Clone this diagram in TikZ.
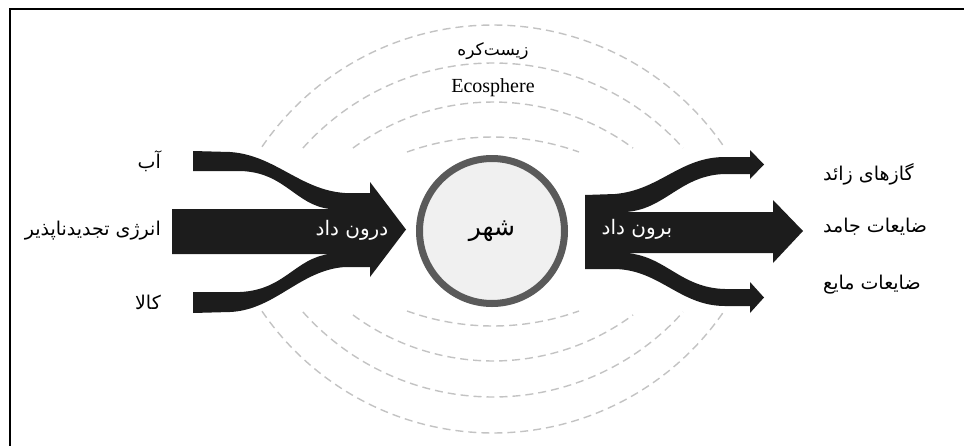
\documentclass[tikz,border=0pt]{standalone}
\usepackage{fontspec}
\setmainfont{Liberation Serif}
\newfontfamily\fa[Script=Arabic]{DejaVu Sans}
\TeXXeTstate=1
\definecolor{ecogray}{RGB}{195,195,195}
\definecolor{flow}{RGB}{28,28,28}
\definecolor{cityring}{RGB}{90,90,90}
\definecolor{cityfill}{RGB}{240,240,240}
\tikzset{
  eco/.style={draw=ecogray, line width=1.4pt, dash pattern=on 8pt off 5pt},
  flowfill/.style={fill=flow, draw=none},
  lbl/.style={font=\fa\fontsize{19}{21}\selectfont, inner sep=0pt},
  wlbl/.style={font=\fa\fontsize{20}{22}\selectfont, text=white, inner sep=0pt},
  frame/.style={draw=black, line width=2.5pt}
}
\begin{document}
\begin{tikzpicture}[x=1pt,y=-1pt]
\useasboundingbox (0,0) rectangle (964,445);
% frame (top and left edges)
\coordinate (fbl) at (10,447);
\coordinate (ftl) at (10,9);
\coordinate (ftr) at (966,9);
\draw[frame] (fbl) -- (ftl) -- (ftr);
% ecosphere arcs
\foreach \n/\ap/\r/\t in {1/25/280/55.6, 2/63/255/48.2, 3/102/236/36.4, 4/137/254/19.8} {
  \coordinate (tc\n) at (493,{\ap+\r});
  \draw[eco] ([shift={(90+\t:\r pt)}]tc\n) arc[start angle=90+\t, end angle=90-\t, radius=\r pt];
}
\foreach \n/\ap/\r/\t in {1/433/280/55.6, 2/397/255/48.2, 3/361/236/36.4, 4/326/254/19.8} {
  \coordinate (bc\n) at (493,{\ap-\r});
  \draw[eco] ([shift={(270-\t:\r pt)}]bc\n) arc[start angle=270-\t, end angle=270+\t, radius=\r pt];
}
% input flow
\fill[flowfill] (193,151) -- (230,152) .. controls (275,155) and (300,190) .. (345,193) -- (370,193) -- (370,182) -- (406,229.5) -- (370,277) -- (370,267) -- (345,267) .. controls (300,270) and (275,310) .. (230,312) -- (193,313) -- (193,292) -- (240,292) .. controls (285,290) and (295,258) .. (330,254) -- (172,254) -- (172,209) -- (330,209) .. controls (295,205) and (285,172) .. (240,171) -- (193,171) -- cycle;
% output flow
\fill[flowfill] (585,195) -- (615,194) .. controls (660,190) and (680,157) .. (725,157) -- (750,157) -- (750,150) -- (764,164.5) -- (750,179) -- (750,174) -- (725,174) .. controls (680,175) and (665,210) .. (625,212) -- (773,212) -- (773,200) -- (803,231) -- (773,263) -- (773,253) -- (625,253) .. controls (665,255) and (680,288) .. (725,289) -- (750,289) -- (750,282) -- (764,297.5) -- (750,313) -- (750,306) -- (725,306) .. controls (680,306) and (660,270) .. (615,269) -- (585,269) -- cycle;
% city
\node[circle, draw=cityring, line width=7pt, fill=cityfill, minimum size=145pt, inner sep=0pt,
      font=\fa\fontsize{25}{27}\selectfont] (city) at (492,231) {\beginR شهر\endR};
% labels
\node[lbl, anchor=east] (ab) at (161,161) {\beginR آب\endR};
\node[lbl, anchor=east] (energy) at (161,231) {\beginR انرژی تجدیدناپذیر\endR};
\node[lbl, anchor=east] (kala) at (161,302) {\beginR کالا\endR};
\node[wlbl] (in) at (352,230) {\beginR درون داد\endR};
\node[wlbl] (out) at (637,229) {\beginR برون داد\endR};
\node[lbl, anchor=west] (gas) at (823,174) {\beginR گازهای زائد\endR};
\node[lbl, anchor=west] (solid) at (823,227) {\beginR ضایعات جامد\endR};
\node[lbl, anchor=west] (liquid) at (823,285) {\beginR ضایعات مایع\endR};
\node[font=\fa\fontsize{17}{19}\selectfont, inner sep=0pt] (zist) at (493,51) {\beginR زیست^^^^200cکره\endR};
\node[font=\fontsize{20}{22}\selectfont, inner sep=0pt] (eco) at (493,88) {Ecosphere};
\end{tikzpicture}
\end{document}
